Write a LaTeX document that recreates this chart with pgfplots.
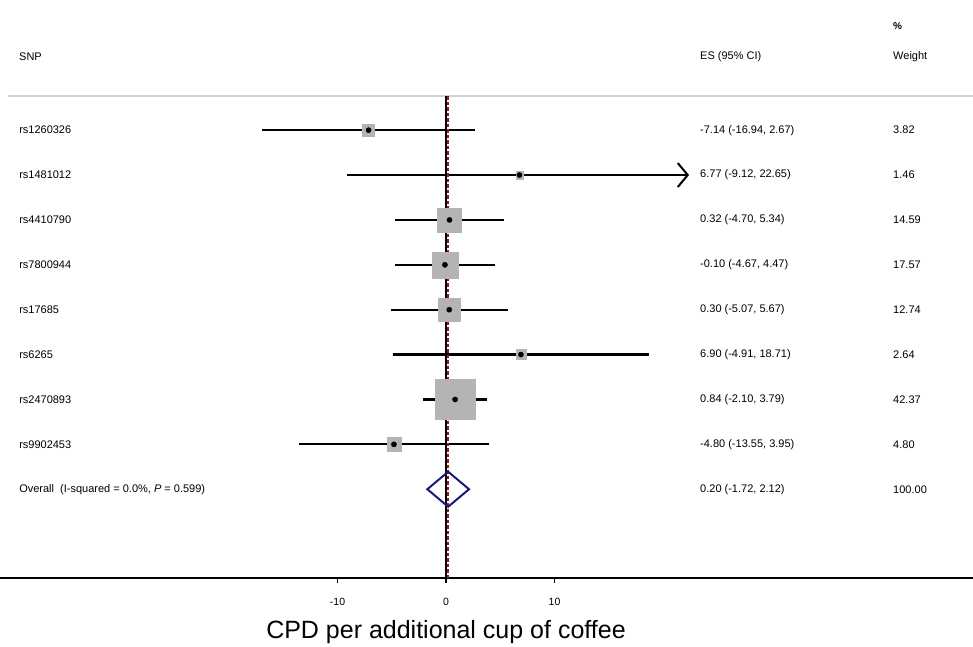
\documentclass[border=0pt]{standalone}
\usepackage{pgfplots}
\pgfplotsset{compat=1.18}
\usepackage{pgfplotstable}
\usetikzlibrary{arrows.meta}
\usepackage{fontspec}
\setmainfont{Liberation Sans}

\definecolor{boxgray}{RGB}{180,180,180}
\definecolor{nullred}{RGB}{150,25,30}
\definecolor{dianavy}{RGB}{25,25,120}
\definecolor{rulegray}{RGB}{210,210,210}

% row  ES  lower  upper  weight
\pgfplotstableread{
row es lo hi w
1 -7.14 -16.94 2.67 3.82
2 6.77 -9.12 22.65 1.46
3 0.32 -4.70 5.34 14.59
4 -0.10 -4.67 4.47 17.57
5 0.30 -5.07 5.67 12.74
6 6.90 -4.91 18.71 2.64
7 0.84 -2.10 3.79 42.37
8 -4.80 -13.55 3.95 4.80
}\snps

\tikzset{txt/.style={font=\fontsize{11}{13}\selectfont, anchor=west, inner sep=0pt}}

\begin{document}
\begin{tikzpicture}
\path[use as bounding box] (0pt,-68pt) rectangle (973pt,578pt);
\begin{axis}[
    scale only axis,
    width=973pt, height=578pt,
    xmin=-41.106, xmax=48.571,
    ymin=-10.978, ymax=1.9,
    axis x line=bottom,
    axis y line=none,
    x axis line style={-, line width=2pt},
    xtick={-10,0,10},
    xticklabels={-10,0,10},
    tick align=outside,
    major tick length=5pt,
    every tick/.style={black, line width=1.3pt},
    xticklabel style={font=\fontsize{10.5}{12}\selectfont, inner sep=0pt, yshift=-15pt},
    clip=false,
    ci/.style={black, line width=2.2pt, forget plot},
]
% grey rule under the header
\addplot[rulegray, line width=2pt] coordinates {(-40.35,-0.243) (48.571,-0.243)};
% null line
\addplot[black, line width=1.4pt] coordinates {(0,-0.243) (0,-10.978)};
% weight boxes
\addplot[only marks, mark=square*, scatter,
    scatter/use mapped color={draw=boxgray, fill=boxgray},
    visualization depends on={3.1*sqrt(\thisrow{w}) \as \ms},
    scatter/@pre marker code/.append style={/tikz/mark size=\ms}]
    table[x=es, y expr=-\thisrow{row}] {\snps};
% confidence intervals
\addplot[ci] coordinates {(-16.94,-1) (2.67,-1)};
\addplot[ci, -{Straight Barb[length=10pt, width=24pt, line width=2pt]}] coordinates {(-9.12,-2) (22.4,-2)};
\addplot[ci] coordinates {(-4.70,-3) (5.34,-3)};
\addplot[ci] coordinates {(-4.67,-4) (4.47,-4)};
\addplot[ci] coordinates {(-5.07,-5) (5.67,-5)};
\addplot[ci] coordinates {(-4.91,-6) (18.71,-6)};
\addplot[ci] coordinates {(-2.10,-7) (3.79,-7)};
\addplot[ci] coordinates {(-13.55,-8) (3.95,-8)};
% point estimates
\addplot[only marks, mark=*, mark size=2.6pt, black]
    table[x=es, y expr=-\thisrow{row}] {\snps};
% overall estimate line
\addplot[nullred, line width=1.6pt, dash pattern=on 3.5pt off 2pt] coordinates {(0.20,-0.243) (0.20,-10.978)};
% overall diamond
\addplot[dianavy, line width=2pt] coordinates {(-1.72,-9) (0.20,-8.61) (2.12,-9) (0.20,-9.39) (-1.72,-9)} -- cycle;

% header
\node[txt] at (rel axis cs:0.0195,0) [yshift=521pt] {SNP};
\node[txt] at (rel axis cs:0.7194,0) [yshift=521pt] {ES (95\% CI)};
\node[txt] at (rel axis cs:0.9178,0) [yshift=521pt] {Weight};
\node[txt, font=\fontsize{10}{12}\selectfont\bfseries] at (rel axis cs:0.9178,0) [yshift=552pt] {\%};

% rows: labels
\node[txt] at (axis cs:-39.35,-1) {rs1260326};
\node[txt] at (axis cs:-39.35,-2) {rs1481012};
\node[txt] at (axis cs:-39.35,-3) {rs4410790};
\node[txt] at (axis cs:-39.35,-4) {rs7800944};
\node[txt] at (axis cs:-39.35,-5) {rs17685};
\node[txt] at (axis cs:-39.35,-6) {rs6265};
\node[txt] at (axis cs:-39.35,-7) {rs2470893};
\node[txt] at (axis cs:-39.35,-8) {rs9902453};
\node[txt] at (axis cs:-39.35,-9) {Overall\ \ (I-squared = 0.0\%, \textit{P} = 0.599)};
% rows: ES (95% CI)
\node[txt] at (axis cs:23.41,-1) {-7.14 (-16.94, 2.67)};
\node[txt] at (axis cs:23.41,-2) {6.77 (-9.12, 22.65)};
\node[txt] at (axis cs:23.41,-3) {0.32 (-4.70, 5.34)};
\node[txt] at (axis cs:23.41,-4) {-0.10 (-4.67, 4.47)};
\node[txt] at (axis cs:23.41,-5) {0.30 (-5.07, 5.67)};
\node[txt] at (axis cs:23.41,-6) {6.90 (-4.91, 18.71)};
\node[txt] at (axis cs:23.41,-7) {0.84 (-2.10, 3.79)};
\node[txt] at (axis cs:23.41,-8) {-4.80 (-13.55, 3.95)};
\node[txt] at (axis cs:23.41,-9) {0.20 (-1.72, 2.12)};
% rows: weight
\node[txt] at (axis cs:41.2,-1) {3.82};
\node[txt] at (axis cs:41.2,-2) {1.46};
\node[txt] at (axis cs:41.2,-3) {14.59};
\node[txt] at (axis cs:41.2,-4) {17.57};
\node[txt] at (axis cs:41.2,-5) {12.74};
\node[txt] at (axis cs:41.2,-6) {2.64};
\node[txt] at (axis cs:41.2,-7) {42.37};
\node[txt] at (axis cs:41.2,-8) {4.80};
\node[txt] at (axis cs:41.2,-9) {100.00};

% x label
\node[font=\fontsize{25}{28}\selectfont, inner sep=0pt] at (axis cs:0,-10.978) [yshift=-54pt] {CPD per additional cup of coffee};
\end{axis}
\end{tikzpicture}
\end{document}
